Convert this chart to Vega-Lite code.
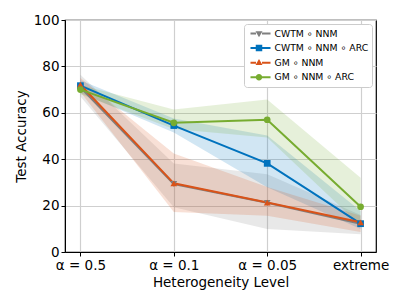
{
  "$schema": "https://vega.github.io/schema/vega-lite/v6.json",
  "width": 311,
  "height": 232,
  "autosize": "none",
  "padding": {"left": 65, "top": 20, "right": 31, "bottom": 53},
  "config": {
    "font": "DejaVu Sans",
    "view": {"stroke": "black", "strokeWidth": 1.2},
    "axis": {
      "labelFont": "DejaVu Sans", "titleFont": "DejaVu Sans",
      "labelFontSize": 13.5, "titleFontSize": 13.5, "titleFontWeight": "normal",
      "labelColor": "black", "titleColor": "black",
      "domainColor": "black", "tickColor": "black", "tickSize": 4,
      "gridColor": "#cfcfcf", "gridOpacity": 1, "gridWidth": 1.2
    }
  },
  "data": {"values": [
    {"level": "α = 0.5", "series": "CWTM ∘ NNM", "mean": 71, "lo": 67, "hi": 76.4},
    {"level": "α = 0.1", "series": "CWTM ∘ NNM", "mean": 29.3, "lo": 19.3, "hi": 38.2},
    {"level": "α = 0.05", "series": "CWTM ∘ NNM", "mean": 21.2, "lo": 9.9, "hi": 33.5},
    {"level": "extreme", "series": "CWTM ∘ NNM", "mean": 12.2, "lo": 7.7, "hi": 16},
    {"level": "α = 0.5", "series": "CWTM ∘ NNM ∘ ARC", "mean": 71.7, "lo": 68.5, "hi": 74},
    {"level": "α = 0.1", "series": "CWTM ∘ NNM ∘ ARC", "mean": 54.5, "lo": 51.5, "hi": 57.5},
    {"level": "α = 0.05", "series": "CWTM ∘ NNM ∘ ARC", "mean": 38.2, "lo": 27.9, "hi": 50.2},
    {"level": "extreme", "series": "CWTM ∘ NNM ∘ ARC", "mean": 12.2, "lo": 9.9, "hi": 17.7},
    {"level": "α = 0.5", "series": "GM ∘ NNM", "mean": 72.1, "lo": 69, "hi": 75},
    {"level": "α = 0.1", "series": "GM ∘ NNM", "mean": 29.6, "lo": 17.2, "hi": 42.5},
    {"level": "α = 0.05", "series": "GM ∘ NNM", "mean": 21.3, "lo": 15.6, "hi": 28},
    {"level": "extreme", "series": "GM ∘ NNM", "mean": 12.8, "lo": 8.6, "hi": 15.6},
    {"level": "α = 0.5", "series": "GM ∘ NNM ∘ ARC", "mean": 70, "lo": 68, "hi": 72},
    {"level": "α = 0.1", "series": "GM ∘ NNM ∘ ARC", "mean": 55.7, "lo": 53, "hi": 61.4},
    {"level": "α = 0.05", "series": "GM ∘ NNM ∘ ARC", "mean": 57, "lo": 49.3, "hi": 65.7},
    {"level": "extreme", "series": "GM ∘ NNM ∘ ARC", "mean": 19.5, "lo": 11.3, "hi": 32}
  ]},
  "encoding": {
    "x": {
      "field": "level", "type": "ordinal",
      "sort": ["α = 0.5", "α = 0.1", "α = 0.05", "extreme"],
      "scale": {"type": "point", "padding": 0.165},
      "axis": {"title": "Heterogeneity Level", "labelAngle": 0, "grid": true, "titlePadding": 4, "labelPadding": 2}
    },
    "color": {
      "field": "series", "type": "nominal",
      "scale": {
        "domain": ["CWTM ∘ NNM", "CWTM ∘ NNM ∘ ARC", "GM ∘ NNM", "GM ∘ NNM ∘ ARC"],
        "range": ["#7f7f7f", "#0072BD", "#D95319", "#77AC30"]
      },
      "legend": null
    }
  },
  "layer": [
    {
      "mark": {"type": "area", "opacity": 0.18},
      "encoding": {
        "y": {"field": "lo", "type": "quantitative", "scale": {"domain": [0, 100], "nice": false},
              "axis": {"title": "Test Accuracy", "values": [0, 20, 40, 60, 80, 100], "grid": true, "titlePadding": 5}},
        "y2": {"field": "hi"}
      }
    },
    {
      "mark": {"type": "line", "strokeWidth": 2},
      "encoding": {"y": {"field": "mean", "type": "quantitative"}}
    },
    {
      "mark": {"type": "point", "filled": true, "opacity": 1, "size": 45},
      "encoding": {
        "y": {"field": "mean", "type": "quantitative"},
        "shape": {
          "field": "series", "type": "nominal",
          "scale": {
            "domain": ["CWTM ∘ NNM", "CWTM ∘ NNM ∘ ARC", "GM ∘ NNM", "GM ∘ NNM ∘ ARC"],
            "range": ["triangle-down", "square", "triangle-up", "circle"]
          },
          "legend": null
        }
      }
    },
    {
      "mark": {"type": "point", "filled": true, "opacity": 0, "size": 40},
      "encoding": {
        "y": {"field": "mean", "type": "quantitative"},
        "color": {
          "field": "series", "type": "nominal",
          "scale": {
            "domain": ["CWTM ∘ NNM", "CWTM ∘ NNM ∘ ARC", "GM ∘ NNM", "GM ∘ NNM ∘ ARC"],
            "range": ["#7f7f7f", "#0072BD", "#D95319", "#77AC30"]
          },
          "legend": {
            "title": null, "orient": "top-right", "offset": 4,
            "fillColor": "white", "strokeColor": "#cccccc", "cornerRadius": 3, "padding": 3.5,
            "symbolSize": 100, "labelFontSize": 9.3, "labelFont": "DejaVu Sans", "labelColor": "black",
            "labelOffset": 15, "rowPadding": 2.6, "symbolOpacity": 1,
            "encode": {"symbols": {"update": {"opacity": {"value": 1}}}}
          }
        },
        "shape": {
          "field": "series", "type": "nominal",
          "scale": {
            "domain": ["CWTM ∘ NNM", "CWTM ∘ NNM ∘ ARC", "GM ∘ NNM", "GM ∘ NNM ∘ ARC"],
            "range": [
              "M-0.6,-0.2H0.5V0.2H-0.6Z M1.7,-0.2H3.4V0.2H1.7Z M0.4,-0.45L1.8,-0.45L1.1,0.75Z",
              "M-0.6,-0.2H0.5V0.2H-0.6Z M1.7,-0.2H3.4V0.2H1.7Z M0.45,-0.65H1.75V0.65H0.45Z",
              "M-0.6,-0.2H0.5V0.2H-0.6Z M1.7,-0.2H3.4V0.2H1.7Z M0.4,0.45L1.8,0.45L1.1,-0.75Z",
              "M-0.6,-0.2H0.5V0.2H-0.6Z M1.7,-0.2H3.4V0.2H1.7Z M0.45,0A0.65,0.65 0 1,1 1.75,0A0.65,0.65 0 1,1 0.45,0Z"
            ]
          },
          "legend": {
            "title": null, "orient": "top-right", "offset": 4,
            "fillColor": "white", "strokeColor": "#cccccc", "cornerRadius": 3, "padding": 3.5,
            "symbolSize": 100, "labelFontSize": 9.3, "labelFont": "DejaVu Sans", "labelColor": "black",
            "labelOffset": 15, "rowPadding": 2.6, "symbolOpacity": 1,
            "encode": {"symbols": {"update": {"opacity": {"value": 1}}}}
          }
        }
      }
    }
  ],
  "resolve": {"scale": {"shape": "independent"}, "legend": {"shape": "independent", "color": "independent"}}
}
